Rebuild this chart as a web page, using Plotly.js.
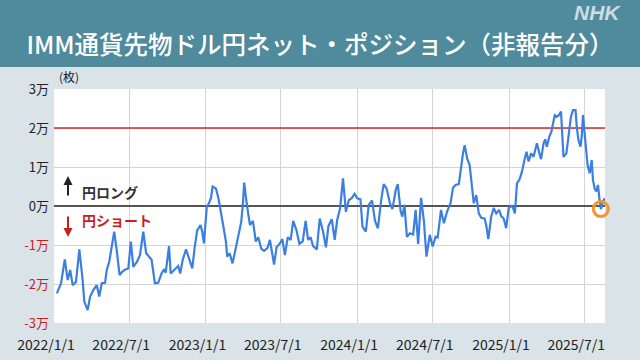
<!DOCTYPE html>
<html>
<head>
<meta charset="utf-8">
<script src="https://cdn.plot.ly/plotly-3.0.1.min.js"></script>
<style>html,body{margin:0;padding:0;background:#d9e3e8;}#chart{width:640px;height:360px;}</style>
</head>
<body>
<div id="chart"></div>
<script>
// ---- data (net yen position, contracts) ----
const dates = [
"2022-01-08","2022-01-18","2022-01-27","2022-02-03","2022-02-09","2022-02-15","2022-02-23","2022-03-03","2022-03-11","2022-03-15","2022-03-23","2022-03-29","2022-04-06","2022-04-14","2022-04-20","2022-04-26","2022-05-04","2022-05-08","2022-05-14","2022-05-19","2022-05-26","2022-06-01","2022-06-08","2022-06-15","2022-06-23","2022-06-29","2022-07-05","2022-07-11","2022-07-20","2022-07-27","2022-08-04","2022-08-11","2022-08-17","2022-08-24","2022-09-01","2022-09-09","2022-09-17","2022-09-23",
"2022-09-27","2022-10-05","2022-10-09","2022-10-17","2022-10-27","2022-11-01","2022-11-07","2022-11-15","2022-11-22","2022-11-30","2022-12-06","2022-12-12","2022-12-20","2022-12-24","2022-12-28","2023-01-04","2023-01-09","2023-01-14","2023-01-18","2023-01-26","2023-02-01","2023-02-07","2023-02-13","2023-02-19","2023-02-22","2023-02-28","2023-03-07","2023-03-13","2023-03-19","2023-03-25","2023-03-28","2023-04-01","2023-04-04","2023-04-10","2023-04-18","2023-04-25","2023-05-02","2023-05-08","2023-05-15","2023-05-22","2023-05-30","2023-06-05","2023-06-11","2023-06-15",
"2023-06-21","2023-06-29","2023-07-05","2023-07-11","2023-07-18","2023-07-25","2023-07-31","2023-08-08","2023-08-15","2023-08-23","2023-08-30","2023-09-05","2023-09-11","2023-09-17","2023-09-26","2023-10-03","2023-10-11","2023-10-18","2023-10-24","2023-11-01","2023-11-08","2023-11-14","2023-11-21","2023-11-28","2023-12-05","2023-12-12","2023-12-19","2023-12-26","2024-01-01","2024-01-09","2024-01-14","2024-01-22","2024-01-29","2024-02-06","2024-02-13","2024-02-20","2024-02-28","2024-03-05",
"2024-03-12","2024-03-20","2024-03-26","2024-04-03","2024-04-08","2024-04-15","2024-04-19","2024-04-24","2024-04-30","2024-05-07","2024-05-15","2024-05-21","2024-05-27","2024-06-03","2024-06-10","2024-06-16","2024-06-24","2024-07-01","2024-07-08","2024-07-13","2024-07-21","2024-07-28","2024-08-05","2024-08-13","2024-08-19","2024-08-25","2024-09-02","2024-09-07","2024-09-12","2024-09-16","2024-09-22","2024-09-28","2024-10-02","2024-10-08","2024-10-14","2024-10-20","2024-10-26","2024-11-03","2024-11-07","2024-11-12","2024-11-19","2024-11-25",
"2024-12-01","2024-12-08","2024-12-13","2024-12-19","2024-12-25","2024-12-31","2025-01-06","2025-01-10","2025-01-15","2025-01-20","2025-01-26","2025-02-01","2025-02-07","2025-02-12","2025-02-17","2025-02-23","2025-03-01","2025-03-09","2025-03-15","2025-03-19","2025-03-25","2025-03-29","2025-04-02","2025-04-08","2025-04-13","2025-04-17","2025-04-21","2025-04-26","2025-05-01","2025-05-06","2025-05-09","2025-05-12","2025-05-19","2025-05-24","2025-05-30","2025-06-04","2025-06-10","2025-06-13","2025-06-17","2025-06-22","2025-06-25","2025-06-28","2025-07-01","2025-07-04","2025-07-09","2025-07-14","2025-07-19","2025-07-22","2025-07-26","2025-07-30","2025-08-03","2025-08-07","2025-08-10","2025-08-15","2025-08-19"
];
const netPosition = [
-22400,-19800,-13700,-19000,-16400,-20300,-19400,-11100,-19000,-24500,-26700,-23200,-21500,-20300,-23200,-19800,-19700,-16400,-14300,-11300,-6600,-11300,-17700,-16800,-16200,-16000,-9100,-15600,-14300,-12600,-6600,-12100,-12800,-13800,-19800,-19700,-17300,-16200,
-17100,-10300,-17300,-16400,-15400,-17300,-13800,-11100,-13400,-16000,-10400,-6200,-4900,-6600,-9600,-200,700,2000,5000,4500,2000,-2300,-5300,-9100,-13000,-12100,-14700,-11700,-8300,-5700,-4000,700,6000,700,-4900,-3800,-9100,-8000,-10900,-11500,-10800,-8700,-13000,-15000,
-10600,-9600,-8500,-12600,-8000,-8700,-3800,-6200,-9700,-9100,-3800,-8700,-8000,-10300,-11100,-3200,-6600,-10600,-5100,-3400,-8700,-3600,-600,7100,-1500,1500,2000,3100,2000,1700,-5300,-6600,300,1400,-3800,-5700,1500,5600,
4500,700,-800,4100,5600,-1500,-2700,300,-7900,-7000,-7300,-1000,-9800,2100,-4000,-13000,-7400,-10400,-7900,-8100,-1000,-4400,-1300,700,4700,5400,5600,10100,13500,15600,12200,10500,6200,700,2800,-1900,-3000,-3200,-4900,-8500,-2700,-500,
-1900,-1000,-2600,-3200,-5700,-600,0,-300,-1900,5800,6800,8800,11800,13900,11400,13500,12600,16100,13500,12000,16100,17100,15200,17800,19100,21400,23300,22900,23300,24200,17800,12600,13500,18600,22900,24600,24600,20300,16900,15200,17800,23300,19500,15200,10500,8400,11800,6700,4500,3700,5400,1500,-800,1100,2000
];
const highlightDate = "2025-08-10";
const xRange = ["2022-01-01", "2025-08-20"];
const xTickVals = ["2022-01-01","2022-07-01","2023-01-01","2023-07-01","2024-01-01","2024-07-01","2025-01-01","2025-07-01"];
const xTickText = ["2022/1/1","2022/7/1","2023/1/1","2023/7/1","2024/1/1","2024/7/1","2025/1/1","2025/7/1"];
const yTickVals = [-30000,-20000,-10000,0,10000,20000,30000];
const yTickText = ["-3万","-2万","-1万","0万","1万","2万","3万"];
const referenceLevel = 20000;
const titleText = "IMM通貨先物ドル円ネット・ポジション（非報告分）";

// ---- styling ----
const FONT = "Noto Sans CJK JP, Noto Sans, sans-serif";
const RED = "#c81e1e";
const yTickLabels = yTickVals.map((v, i) => v < 0 ? '<span style="color:' + RED + '">' + yTickText[i] + '</span>' : yTickText[i]);
const hi = dates.indexOf(highlightDate);

const traces = [
  {x: xRange, y: [referenceLevel, referenceLevel], type: "scatter", mode: "lines",
   line: {color: "#d42a2a", width: 1.3}, hoverinfo: "skip", showlegend: false},
  {x: dates, y: netPosition, type: "scatter", mode: "lines",
   line: {color: "#3b7fe0", width: 2.2}, hoverinfo: "skip", showlegend: false},
  {x: [dates[hi]], y: [netPosition[hi]], type: "scatter", mode: "markers", cliponaxis: false,
   marker: {symbol: "circle-open", size: 15, color: "#f0962a", line: {color: "#f0962a", width: 3}},
   hoverinfo: "skip", showlegend: false}
];

const layout = {
  width: 640, height: 360, autosize: false,
  margin: {l: 54, r: 35, t: 89, b: 37, pad: 0},
  paper_bgcolor: "#d9e3e8", plot_bgcolor: "#ffffff",
  font: {family: FONT, color: "#222"},
  title: {text: titleText, x: 0.5, xanchor: "center", xref: "container",
          y: 1 - 45 / 360, yanchor: "middle", yref: "container",
          font: {family: FONT, size: 24.5, color: "#ffffff", weight: 500}},
  xaxis: {type: "date", range: xRange,
          tickmode: "array", tickvals: xTickVals, ticktext: xTickText,
          showgrid: true, gridcolor: "#d4d4d4", gridwidth: 1,
          zeroline: false, showline: false, ticks: "",
          ticklabelshift: -8, ticklabelstandoff: 12,
          tickfont: {family: FONT, size: 14, color: "#222"}, fixedrange: true},
  yaxis: {range: [-30000, 30000], tickmode: "array", tickvals: yTickVals, ticktext: yTickLabels,
          showgrid: true, gridcolor: "#d4d4d4", gridwidth: 1,
          zeroline: true, zerolinecolor: "#555555", zerolinewidth: 1.3,
          showline: false, ticks: "", ticklabelstandoff: 4,
          tickfont: {family: FONT, size: 13, color: "#222"}, fixedrange: true},
  shapes: [
    {type: "rect", xref: "paper", yref: "paper", x0: -0.2, x1: 1.2, y0: (323 - 67) / 234, y1: 1.6,
     fillcolor: "#4f8b9c", line: {width: 0}, layer: "below"}
  ],
  annotations: [
    {text: "NHK", xref: "paper", yref: "paper", x: (597 - 54) / 551, y: (323 - 12) / 234,
     xanchor: "center", yanchor: "middle", showarrow: false,
     font: {family: "Liberation Sans, Arial, sans-serif", size: 21, color: "rgba(228,236,240,0.85)", weight: "bold", style: "italic"}},
    {text: "(枚)", xref: "paper", yref: "paper", x: 0.005, y: (323 - 77) / 234,
     xanchor: "left", yanchor: "middle", showarrow: false, font: {family: FONT, size: 12, color: "#222"}},
    {text: "円ロング", xref: "paper", yref: "paper", x: (80 - 54) / 551, y: (323 - 191.5) / 234,
     xanchor: "left", yanchor: "middle", showarrow: false, font: {family: FONT, size: 14, color: "#333", weight: "bold"}},
    {text: "円ショート", xref: "paper", yref: "paper", x: (80 - 54) / 551, y: (323 - 220) / 234,
     xanchor: "left", yanchor: "middle", showarrow: false, font: {family: FONT, size: 14, color: RED, weight: "bold"}},
    {text: "", xref: "paper", yref: "paper", x: (68 - 54) / 551, y: (323 - 176) / 234,
     showarrow: true, ax: 0, ay: 21, arrowhead: 2, arrowsize: 0.9, arrowwidth: 2, arrowcolor: "#222", standoff: 0},
    {text: "", xref: "paper", yref: "paper", x: (68 - 54) / 551, y: (323 - 237) / 234,
     showarrow: true, ax: 0, ay: -22, arrowhead: 2, arrowsize: 0.9, arrowwidth: 2, arrowcolor: RED, standoff: 0}
  ]
};

Plotly.newPlot("chart", traces, layout, {displayModeBar: false, staticPlot: true});
</script>
</body>
</html>
